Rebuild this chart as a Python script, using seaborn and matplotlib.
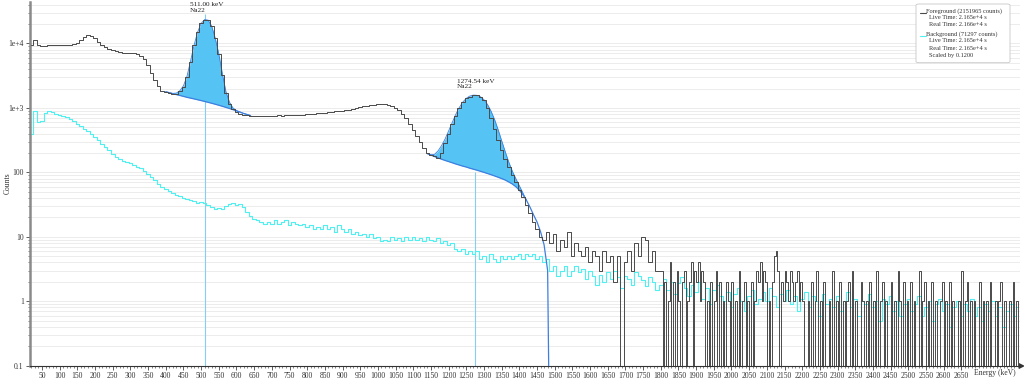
import numpy as np
import matplotlib
matplotlib.use('Agg')
import matplotlib.pyplot as plt
import seaborn as sns
from matplotlib.patches import FancyBboxPatch
from matplotlib.lines import Line2D

# ===== 1. data =====
# foreground: 10 keV bins up to 1800 keV, 5 keV bins above
fg_centers = np.concatenate([np.arange(20, 1800, 10), np.arange(1802.5, 2815, 5)])
# background: 10 keV bins
bg_centers = np.arange(20, 2820, 10)

fg_low = [9500, 11200, 9300, 9100, 9200, 9300, 9400, 9400, 9500, 9500,
          9600, 9600, 9800, 10200, 11300, 12600, 13400, 13200, 12000, 10500,
          9400, 8800, 8300, 7900, 7600, 7400, 7200, 7100, 7000, 7000,
          6900, 6500, 5800, 4600, 3500, 2700, 2150, 1850, 1750, 1680,
          1640, 1660, 1800, 2100, 3000, 5200, 9500, 15000, 20500, 23500,
          23000, 18500, 12000, 6800, 3200, 1700, 1150, 950, 860, 800,
          780, 770]
fg_mid = [760, 750, 760, 740, 755, 745, 760, 750, 770, 755,
          770, 765, 780, 770, 790, 785, 800, 795, 810, 820,
          830, 845, 860, 870, 880, 900, 910, 925, 940, 970,
          1000, 1030, 1060, 1080, 1100, 1110, 1130, 1140, 1130, 1120,
          1090, 1010, 920, 800, 690, 560, 450, 370, 300, 240,
          200, 185, 180, 165, 200, 290, 400, 560, 760, 1000,
          1230, 1400, 1500, 1570, 1580, 1500, 1350, 1000, 700, 470,
          315, 220, 160, 120, 90, 70, 54, 42, 31, 23,
          17, 13, 10, 9]
fg_tail = [12, 8, 11, 6, 9, 7, 12, 5, 8, 6,
           5, 7, 4, 6, 5, 3, 6, 4, 5, 2,
           5, 0, 4, 6, 3, 8, 5, 10, 9, 4,
           6, 3]
fg_tail_fine = [3, 0, 2, 0, 1, 4, 0, 2, 0, 3, 1, 0, 2, 3, 0, 1, 2, 4, 0, 3,
                2, 4, 1, 3, 2, 0, 1, 0, 2, 0, 1, 3, 0, 2, 0, 1, 0, 2, 1, 0,
                2, 0, 1, 0, 3, 0, 1, 2, 0, 1, 0, 2, 0, 1, 3, 2, 4, 1, 3, 2,
                0, 1, 0, 2, 5, 6, 3, 0, 2, 1, 3, 2, 1, 3, 2, 1, 2, 3, 1, 2,
                1, 0, 0, 1, 0, 2, 0, 1, 3, 0, 1, 0, 2, 0, 0, 1, 0, 3, 0, 1,
                0, 2, 0, 1, 0, 1, 2, 0, 3, 0, 1, 0, 0, 2, 1, 0, 1, 0, 2, 0,
                1, 0, 3, 0, 1, 2, 0, 1, 0, 0, 2, 0, 1, 0, 3, 1, 0, 2, 0, 1,
                0, 2, 0, 1, 0, 0, 3, 0, 1, 2, 0, 1, 0, 2, 0, 1, 0, 0, 1, 2,
                0, 1, 0, 2, 0, 1, 0, 0, 1, 0, 3, 0, 1, 2, 0, 1, 0, 1, 0, 0,
                2, 0, 1, 0, 1, 0, 2, 0, 0, 1, 0, 1, 2, 0, 1, 0, 0, 1, 0, 2,
                0, 1, 0]

# background counts per bin, already scaled by 0.12
bg_low = [400, 900, 600, 620, 820, 900, 860, 800, 770, 750,
          730, 680, 620, 570, 520, 475, 440, 400, 355, 315,
          280, 250, 220, 195, 172, 160, 152, 145, 138, 130,
          122, 116, 106, 95, 86, 76, 66, 59, 55, 51,
          48, 45, 43, 40, 39, 37, 36, 34, 35, 33,
          31, 29, 27, 28, 27, 30, 32, 33, 31, 32,
          29, 24]
bg_mid = [21, 19, 18, 17, 16, 17, 16, 18, 16, 17,
          18, 15, 17, 16, 15, 16, 14, 15, 13, 14,
          13, 15, 13, 14, 12, 15, 13, 12, 13, 11,
          12, 10.5, 11, 10, 11, 9.5, 10, 8.5, 9, 8.5,
          10, 9, 9.5, 8.5, 10, 9, 10, 9, 9.5, 8.5,
          10, 9, 8.5, 9.5, 8, 8.5, 7.5, 8, 6.5, 6,
          6.5, 5.5, 6, 5.5, 6, 4.5, 5, 4, 5.5, 4.5,
          4, 5, 4.5, 5, 4.5, 5, 5.5, 4.5, 5.5, 5,
          5.5, 4.5, 5, 4]
bg_tail = [4.5, 3, 3.5, 2.5, 3, 3.5, 2.5, 3, 3.5, 2.8,
           3.2, 2.2, 3, 2.5, 1.8, 2.6, 2, 2.8, 2.2, 3,
           2.4, 1.6, 2.5, 2.2, 1.8, 2.8, 2.5, 2.1, 1.7, 2.4,
           2, 1.5, 1.8, 2.2, 1.5, 2.0, 1.3, 1.9, 2.4, 1.6,
           1.2, 1.8, 1.4, 2.0, 1.1, 1.6, 0.9, 1.5, 1.8, 1.2,
           1.0, 1.4, 0.8, 1.3, 1.6, 1.0, 0.7, 1.2, 1.5, 0.9,
           1.1, 1.4, 1.0, 1.6, 1.2, 0.8, 1.3, 1.0, 1.5, 0.9,
           1.2, 0.7, 1.1, 1.4, 0.8, 1.2, 1.0, 0.6, 1.3, 0.9,
           1.1, 0.8, 1.2, 0.7, 1.0, 1.4, 0.8, 1.1, 0.6, 1.0,
           0.9, 1.3, 0.8, 1.0, 0.5, 1.1, 0.9, 1.2, 0.7, 1.0,
           0.6, 0.9, 1.1, 0.7, 0.9, 1.2, 0.6, 0.8, 1.0, 0.5,
           0.9, 1.1, 0.7, 0.9, 0.4, 0.8, 1.0, 0.6, 0.9, 0.7,
           1.1, 0.6, 0.8, 0.5, 0.9, 0.7, 1.0, 0.6, 0.8, 0.4,
           0.7, 0.9, 0.6, 0.8]

foreground = np.array(fg_low + fg_mid + fg_tail + fg_tail_fine, dtype=float)
background = np.array(bg_low + bg_mid + bg_tail, dtype=float)

# peak fits (continuum + gaussian)
peak1_energy = np.arange(400, 650, 10)
peak1_cont = [1780, 1720, 1660, 1610, 1560, 1510, 1460, 1420, 1380, 1340,
              1300, 1260, 1220, 1180, 1140, 1100, 1060, 1020, 980, 940,
              900, 860, 820, 790, 760]
peak1_fit = [1780, 1725, 1680, 1700, 1850, 2200, 3100, 5300, 9400, 15000,
             20500, 23500, 23000, 18500, 12000, 6900, 3400, 1800, 1230, 1000,
             910, 865, 822, 790, 760]

peak2_energy = np.arange(1140, 1430, 10)
peak2_cont = [195, 185, 176, 168, 160, 153, 147, 141, 135, 130,
              125, 121, 116, 112, 108, 104, 100, 96, 92, 88,
              84, 80, 76, 71, 66, 60, 53, 45, 37]
peak2_fit = [195, 188, 190, 215, 260, 330, 440, 590, 790, 1010,
             1230, 1410, 1530, 1580, 1570, 1490, 1340, 1130, 890, 660,
             460, 310, 210, 145, 105, 80, 62, 48, 37]
peak2_cont_end_energy = [1420, 1430, 1440, 1450, 1460, 1470, 1480, 1485]
peak2_cont_end = [37, 29, 22, 17, 12, 7.5, 3, 0.01]

peak_means = [511.00, 1274.54]
peak_labels = ['511.00 keV\nNa22', '1274.54 keV\nNa22']

x_ticks = np.arange(50, 2700, 50)
y_ticks = [0.1, 1, 10, 100, 1e3, 1e4]
y_ticklabels = ['0.1', '1', '10', '100', '1e+3', '1e+4']

# ===== 2. style =====
sns.set_theme(style='white')
plt.rcParams['font.family'] = ['Liberation Serif', 'DejaVu Serif']

W, H = 1024, 379
fig = plt.figure(figsize=(W / 100, H / 100), dpi=100)
ax = fig.add_axes([30 / W, 13.3 / H, 990 / W, 363.7 / H])

fg_color = '#4a4a4a'
bg_color = '#4ff0f0'
fill_color = '#56c3f5'
cont_color = '#3d7fe0'
mean_color = '#86cdf2'

floor = 0.01  # zero-count bins drop below the axis

# ===== 3. draw =====
ax.vlines(peak_means[0], floor, 2.9e4, color=mean_color, lw=0.8, zorder=1)
ax.vlines(peak_means[1], floor, 100, color=mean_color, lw=0.8, zorder=1)

sns.lineplot(x=bg_centers, y=np.maximum(background, floor), drawstyle='steps-mid',
             color=bg_color, lw=0.8, estimator=None, ax=ax, zorder=2)

ax.fill_between(peak1_energy, peak1_cont, peak1_fit, color=fill_color, lw=0, zorder=3)
ax.fill_between(peak2_energy, peak2_cont, peak2_fit, color=fill_color, lw=0, zorder=3)
ax.plot(peak1_energy, peak1_fit, color=cont_color, lw=0.6, zorder=4)
ax.plot(peak2_energy, peak2_fit, color=cont_color, lw=0.6, zorder=4)
ax.plot(peak1_energy, peak1_cont, color=cont_color, lw=0.9, zorder=4)
ax.plot(peak2_energy, peak2_cont, color=cont_color, lw=0.9, zorder=4)
ax.plot(peak2_cont_end_energy, peak2_cont_end, color=cont_color, lw=0.9, zorder=4)

sns.lineplot(x=fg_centers, y=np.maximum(foreground, floor), drawstyle='steps-mid',
             color=fg_color, lw=0.7, estimator=None, ax=ax, zorder=5)

ax.set_yscale('log')
ax.set_xlim(16, 2816)
ax.set_ylim(0.1, 4.4e4)

# ticks
ax.set_xticks(x_ticks)
ax.set_xticklabels([str(v) for v in x_ticks])
ax.set_xticks(np.arange(20, 2816, 10), minor=True)
ax.set_yticks(y_ticks)
ax.set_yticklabels(y_ticklabels)
minor_y = [m * 10.0 ** d for d in range(-1, 5) for m in range(2, 10) if m * 10.0 ** d < 4.4e4]
ax.set_yticks(minor_y, minor=True)
ax.yaxis.set_minor_formatter(plt.NullFormatter())
ax.tick_params(axis='both', which='major', length=3, width=0.6, color='#444',
               labelsize=5.5, labelcolor='#333', pad=1.5, direction='out')
ax.tick_params(axis='both', which='minor', length=1.5, width=0.5, color='#555', direction='out')
ax.tick_params(axis='x', which='both', bottom=True)
ax.tick_params(axis='y', which='both', left=True)

ax.grid(True, which='both', axis='y', color='#e9e9e9', lw=0.6, zorder=0)
ax.grid(False, axis='x')
ax.set_axisbelow(True)

for side in ['top', 'right']:
    ax.spines[side].set_visible(False)
ax.spines['left'].set_color('#8a8a8a')
ax.spines['left'].set_linewidth(1.8)
ax.spines['bottom'].set_color('#333333')
ax.spines['bottom'].set_linewidth(0.8)
ax.plot([1.002], [0], marker='>', transform=ax.transAxes, clip_on=False,
        color='#333333', ms=4.5, mew=0, zorder=6)

ax.set_xlabel('')
ax.set_ylabel('')
fig.text(8 / W, 1 - 183 / H, 'Counts', rotation=90, ha='center', va='center',
         fontsize=5.5, color='#333')
fig.text(1016 / W, 1 - 373 / H, 'Energy (keV)', ha='right', va='center',
         fontsize=5.5, color='#333')

# peak labels
fig.text(190 / W, 1 - 7.5 / H, peak_labels[0], ha='left', va='center',
         fontsize=5.2, color='#222', linespacing=1.0)
fig.text(457 / W, 1 - 84 / H, peak_labels[1], ha='left', va='center',
         fontsize=5.2, color='#222', linespacing=1.0)

# legend box
box = FancyBboxPatch((916 / W, 1 - 62.7 / H), 94 / W, 58.7 / H,
                     boxstyle='round,pad=0,rounding_size=0.003',
                     transform=fig.transFigure, facecolor='white',
                     edgecolor='#c8c8c8', lw=0.6, zorder=10)
fig.patches.append(box)
legend_rows = [
    (926, 10.7, 'Foreground (2151965 counts)'),
    (929, 17.3, 'Live Time: 2.165e+4 s'),
    (929, 24.0, 'Real Time: 2.166e+4 s'),
    (926, 34.0, 'Background (71297 counts)'),
    (929, 41.0, 'Live Time: 2.165e+4 s'),
    (929, 48.3, 'Real Time: 2.165e+4 s'),
    (929, 55.0, 'Scaled by 0.1200'),
]
for x, y, s in legend_rows:
    fig.text(x / W, 1 - y / H, s, ha='left', va='center', fontsize=4.6,
             color='#333', zorder=11)
fig.lines.append(Line2D([920 / W, 925.5 / W], [1 - 12.5 / H, 1 - 12.5 / H],
                        transform=fig.transFigure, color=fg_color, lw=0.8, zorder=11))
fig.lines.append(Line2D([920 / W, 925.5 / W], [1 - 35.8 / H, 1 - 35.8 / H],
                        transform=fig.transFigure, color=bg_color, lw=0.8, zorder=11))

fig.savefig('out.png', dpi=100)
